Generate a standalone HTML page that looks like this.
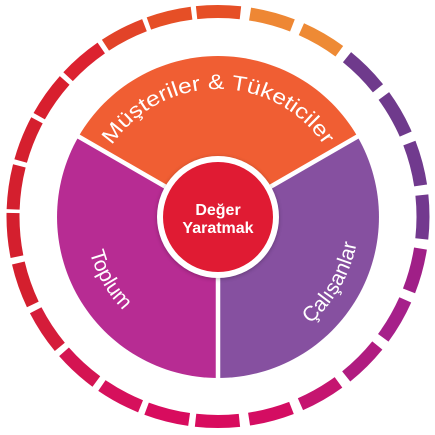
<!DOCTYPE html>
<html><head><meta charset="utf-8"><style>
html,body{margin:0;padding:0;background:#fff;width:435px;height:435px;overflow:hidden}
svg{display:block;position:absolute;left:0;top:0}
text{font-family:"Liberation Sans",sans-serif;fill:#fff}
</style></head><body>
<svg width="435" height="435" viewBox="0 0 435 435" xmlns="http://www.w3.org/2000/svg" overflow="hidden">
<defs>
<filter id="sh" x="-30%" y="-30%" width="160%" height="160%"><feGaussianBlur stdDeviation="2"/></filter>
<path id="pTop" d="M107.15,153 A128,128 0 0 1 328.85,153"/>
<path id="pLeft" d="M85.5,228.6 A133,133 0 0 0 141.7,325.9"/>
<path id="pRight" d="M277.6,344.8 A141,141 0 0 0 358.5,204.7"/>
</defs>
<g fill="none" stroke-width="13" stroke-dasharray="44 1300">
<circle cx="218" cy="216.5" r="205" stroke="#e64f26" transform="rotate(-96 218 216.5)"/>
<circle cx="218" cy="216.5" r="205" stroke="#ee8734" transform="rotate(-81 218 216.5)"/>
<circle cx="218" cy="216.5" r="205" stroke="#ee8a35" transform="rotate(-66 218 216.5)"/>
<circle cx="218" cy="216.5" r="205" stroke="#6f3a8c" transform="rotate(-51 218 216.5)"/>
<circle cx="218" cy="216.5" r="205" stroke="#6f3a8c" transform="rotate(-36 218 216.5)"/>
<circle cx="218" cy="216.5" r="205" stroke="#713a8e" transform="rotate(-21 218 216.5)"/>
<circle cx="218" cy="216.5" r="205" stroke="#73398f" transform="rotate(-6 218 216.5)"/>
<circle cx="218" cy="216.5" r="205" stroke="#a01f87" transform="rotate(9 218 216.5)"/>
<circle cx="218" cy="216.5" r="205" stroke="#a6208a" transform="rotate(24 218 216.5)"/>
<circle cx="218" cy="216.5" r="205" stroke="#b01c80" transform="rotate(39 218 216.5)"/>
<circle cx="218" cy="216.5" r="205" stroke="#c51570" transform="rotate(54 218 216.5)"/>
<circle cx="218" cy="216.5" r="205" stroke="#d40d62" transform="rotate(69 218 216.5)"/>
<circle cx="218" cy="216.5" r="205" stroke="#d80c5e" transform="rotate(84 218 216.5)"/>
<circle cx="218" cy="216.5" r="205" stroke="#d80c5e" transform="rotate(98.1 218 216.5)"/>
<circle cx="218" cy="216.5" r="205" stroke="#d6105c" transform="rotate(112.2 218 216.5)"/>
<circle cx="218" cy="216.5" r="205" stroke="#d41452" transform="rotate(126.4 218 216.5)"/>
<circle cx="218" cy="216.5" r="205" stroke="#d51c3a" transform="rotate(140.5 218 216.5)"/>
<circle cx="218" cy="216.5" r="205" stroke="#d41f2e" transform="rotate(154.6 218 216.5)"/>
<circle cx="218" cy="216.5" r="205" stroke="#d41f2e" transform="rotate(168.7 218 216.5)"/>
<circle cx="218" cy="216.5" r="205" stroke="#d41f2e" transform="rotate(182 218 216.5)"/>
<circle cx="218" cy="216.5" r="205" stroke="#d51f2e" transform="rotate(195.7 218 216.5)"/>
<circle cx="218" cy="216.5" r="205" stroke="#d81f2e" transform="rotate(209.3 218 216.5)"/>
<circle cx="218" cy="216.5" r="205" stroke="#dc2230" transform="rotate(223 218 216.5)"/>
<circle cx="218" cy="216.5" r="205" stroke="#e24328" transform="rotate(236.7 218 216.5)"/>
<circle cx="218" cy="216.5" r="205" stroke="#e64f26" transform="rotate(250.3 218 216.5)"/>
</g>
<path d="M218,217 L78.6,136.5 A161,161 0 0 1 357.4,136.5 Z" fill="#f05e33"/>
<path d="M218,217 L357.4,136.5 A161,161 0 0 1 218,378 Z" fill="#8650a0"/>
<path d="M218,217 L218,378 A161,161 0 0 1 78.6,136.5 Z" fill="#b72c93"/>
<g stroke="#fff" stroke-width="4.5">
<line x1="218" y1="217" x2="218" y2="380"/>
<line x1="218" y1="217" x2="75" y2="134.5"/>
<line x1="218" y1="217" x2="361" y2="134.5"/>
</g>
<circle cx="218" cy="218" r="61" fill="#000" opacity="0.25" filter="url(#sh)"/>
<circle cx="218" cy="217" r="61" fill="#fff"/>
<circle cx="218" cy="217" r="55" fill="#e01b33"/>
<text x="218" y="215" text-anchor="middle" font-size="16" font-weight="bold">Değer</text>
<text x="218" y="233" text-anchor="middle" font-size="16" font-weight="bold">Yaratmak</text>
<text font-size="21" textLength="250" lengthAdjust="spacingAndGlyphs"><textPath href="#pTop" startOffset="50%" text-anchor="middle">Müşteriler &amp; Tüketiciler</textPath></text>
<text font-size="21"><textPath href="#pLeft" startOffset="50%" text-anchor="middle">Toplum</textPath></text>
<text font-size="21"><textPath href="#pRight" startOffset="50%" text-anchor="middle">Çalışanlar</textPath></text>
</svg>
</body></html>
